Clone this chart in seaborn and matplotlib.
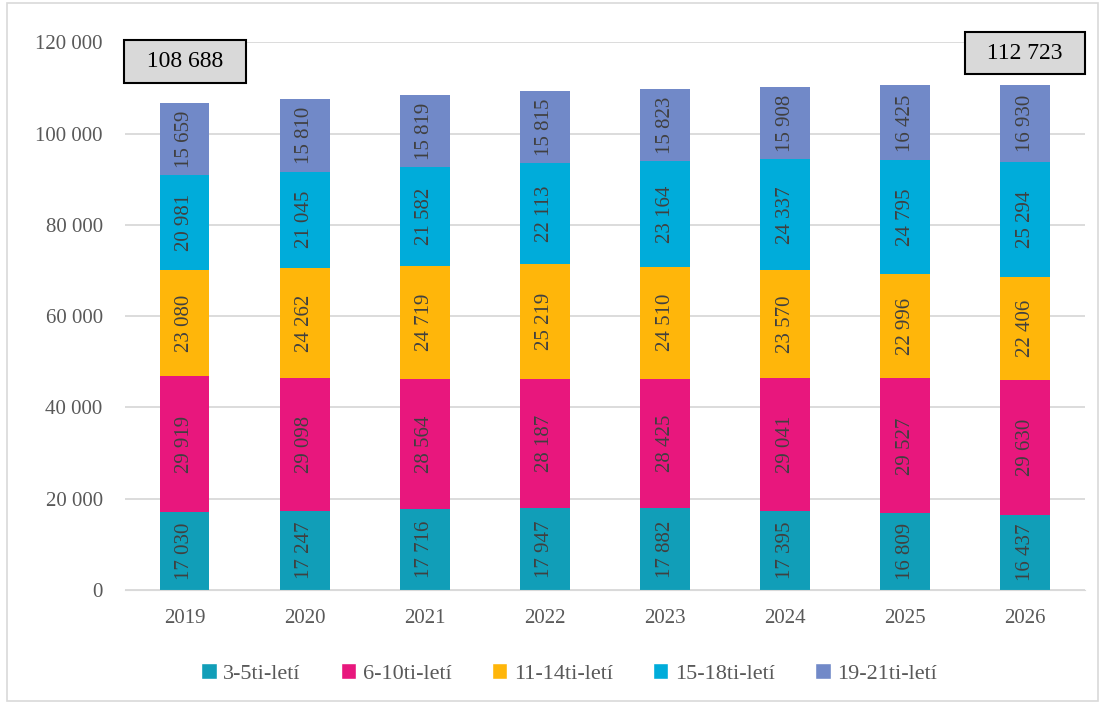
import numpy as np
import pandas as pd
import seaborn as sns
import matplotlib.pyplot as plt
from matplotlib.patches import Patch

# data
years = ["2019", "2020", "2021", "2022", "2023", "2024", "2025", "2026"]
series_names = ["3-5ti-letí", "6-10ti-letí", "11-14ti-letí", "15-18ti-letí", "19-21ti-letí"]
v_3_5 = [17030, 17247, 17716, 17947, 17882, 17395, 16809, 16437]
v_6_10 = [29919, 29098, 28564, 28187, 28425, 29041, 29527, 29630]
v_11_14 = [23080, 24262, 24719, 25219, 24510, 23570, 22996, 22406]
v_15_18 = [20981, 21045, 21582, 22113, 23164, 24337, 24795, 25294]
v_19_21 = [15659, 15810, 15819, 15815, 15823, 15908, 16425, 16930]
colors = ["#119EB8", "#E8177D", "#FFB60A", "#00ACDA", "#7189C8"]
box_labels = ["108 688", "112 723"]

sns.set_style("white")
plt.rcParams["font.family"] = ["Liberation Serif", "DejaVu Serif"]

df = pd.DataFrame({"year": years})
for name, vals in zip(series_names, [v_3_5, v_6_10, v_11_14, v_15_18, v_19_21]):
    df[name] = vals

fig = plt.figure(figsize=(11.05, 7.04), dpi=100)
ax = fig.add_axes([0.113, 0.162, 0.869, 0.778])

bottom = np.zeros(len(years))
for name, col in zip(series_names, colors):
    sns.barplot(data=df, x="year", y=name, color=col, width=0.41,
                bottom=bottom, ax=ax, saturation=1, linewidth=0)
    for i, v in enumerate(df[name]):
        ax.text(i, bottom[i] + v / 2, f"{v:,}".replace(",", " "), rotation=90,
                ha="center", va="center", fontsize=15, color="#404040")
    bottom = bottom + df[name].values

ax.set_ylim(0, 120000)
ax.set_yticks(range(0, 120001, 20000))
ax.set_yticklabels([f"{t:,}".replace(",", " ") for t in range(0, 120001, 20000)])
ax.yaxis.grid(True, color="#D9D9D9", linewidth=1.3)
ax.set_axisbelow(True)
ax.set_xlim(-0.5, 7.5)
ax.set_xlabel("")
ax.set_ylabel("")
for s in ["top", "right", "left"]:
    ax.spines[s].set_visible(False)
ax.spines["bottom"].set_color("#D9D9D9")
ax.tick_params(axis="both", length=0, labelsize=15, colors="#595959", pad=14)
ax.tick_params(axis="y", pad=16)

box = dict(boxstyle="square,pad=0.45", facecolor="#D9D9D9", edgecolor="black", linewidth=1.5)
ax.text(0, 115800, "  " + box_labels[0] + "  ", ha="center", va="center", fontsize=17, bbox=box, color="black")
ax.text(7, 117600, "  " + box_labels[1] + "  ", ha="center", va="center", fontsize=17, bbox=box, color="black")

handles = [Patch(facecolor=c, label=n) for n, c in zip(series_names, colors)]
fig.legend(handles=handles, loc="lower center", ncol=5, frameon=False,
           bbox_to_anchor=(0.515, 0.0), fontsize=16, handlelength=0.7, handleheight=0.7,
           handletextpad=0.3, columnspacing=1.8, labelcolor="#595959")

fig.patches.append(plt.Rectangle((0.006, 0.004), 0.988, 0.992, transform=fig.transFigure,
                                 fill=False, edgecolor="#D9D9D9", linewidth=1.2))
plt.savefig("out.png", dpi=100)
